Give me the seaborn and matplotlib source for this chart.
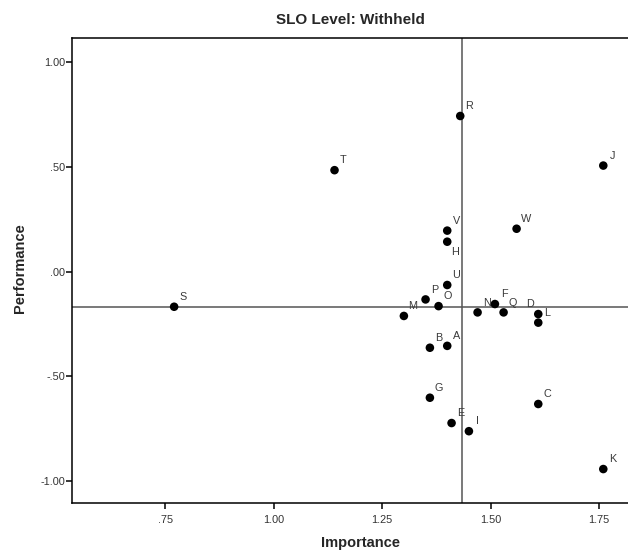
import numpy as np
import pandas as pd
import seaborn as sns
import matplotlib.pyplot as plt
from matplotlib.ticker import FuncFormatter

labels = ['A', 'B', 'C', 'D', 'E', 'F', 'G', 'H', 'I', 'J', 'K', 'L',
          'M', 'N', 'O', 'P', 'Q', 'R', 'S', 'T', 'U', 'V', 'W']
importance = [1.40, 1.36, 1.61, 1.61, 1.41, 1.51, 1.36, 1.40, 1.45, 1.76, 1.76, 1.61,
              1.30, 1.47, 1.38, 1.35, 1.53, 1.43, 0.77, 1.14, 1.40, 1.40, 1.56]
performance = [-0.355, -0.364, -0.633, -0.203, -0.724, -0.155, -0.603, 0.143, -0.763, 0.507, -0.944, -0.244,
               -0.212, -0.195, -0.165, -0.133, -0.195, 0.744, -0.168, 0.485, -0.064, 0.196, 0.205]
x_ticks = [0.75, 1.00, 1.25, 1.50, 1.75]
y_ticks = [-1.00, -0.50, 0.00, 0.50, 1.00]

df = pd.DataFrame({'Label': labels, 'Importance': importance, 'Performance': performance})

sns.set_style('white')
plt.rcParams['font.family'] = ['Liberation Sans', 'DejaVu Sans']

fig = plt.figure(figsize=(6.28, 5.53), dpi=100)
ax = fig.add_axes([0.1154, 0.0913, 0.8846, 0.840])

# mean reference lines
ax.axvline(df['Importance'].mean(), color='#555555', lw=1.1, zorder=1)
ax.axhline(df['Performance'].mean(), color='#555555', lw=1.1, zorder=1)

sns.scatterplot(data=df, x='Importance', y='Performance', ax=ax, color='black',
                s=38, edgecolor='none', zorder=3)

# label offsets in points, a couple moved to avoid overlap
offsets = {'H': (5.5, -7.5), 'D': (-6, 7)}
for lab, xv, yv in zip(labels, importance, performance):
    dx, dy = offsets.get(lab, (6.5, 7))
    ax.annotate(lab, (xv, yv), xytext=(dx, dy), textcoords='offset points',
                ha='center', va='center', fontsize=7.8, color='#3a3a3a')

ax.set_xlim(0.5355, 1.817)
ax.set_ylim(-1.104, 1.117)
ax.set_xticks(x_ticks)
ax.set_yticks(y_ticks)
fmt = FuncFormatter(lambda v, p: ('%.2f' % v).replace('0.', '.', 1) if abs(v) < 1 else '%.2f' % v)
ax.xaxis.set_major_formatter(fmt)
ax.yaxis.set_major_formatter(fmt)
ax.tick_params(axis='both', direction='out', length=4, width=1.1, color='black',
               labelsize=7.8, labelcolor='#333333', pad=1.5, left=True, bottom=True)
ax.tick_params(axis='x', pad=5)

for side in ['left', 'bottom', 'top']:
    ax.spines[side].set_color('black')
    ax.spines[side].set_linewidth(1.1)
ax.spines['right'].set_visible(False)

ax.set_xlabel('Importance', fontsize=10.5, fontweight='bold', va='center')
ax.set_ylabel('Performance', fontsize=10.5, fontweight='bold', va='center')
ax.xaxis.set_label_coords(0.518, -0.088)
ax.yaxis.set_label_coords(-0.094, 0.505)
ax.set_title('SLO Level: Withheld', fontsize=11, fontweight='bold', pad=10)

plt.savefig('out.png', dpi=100)
